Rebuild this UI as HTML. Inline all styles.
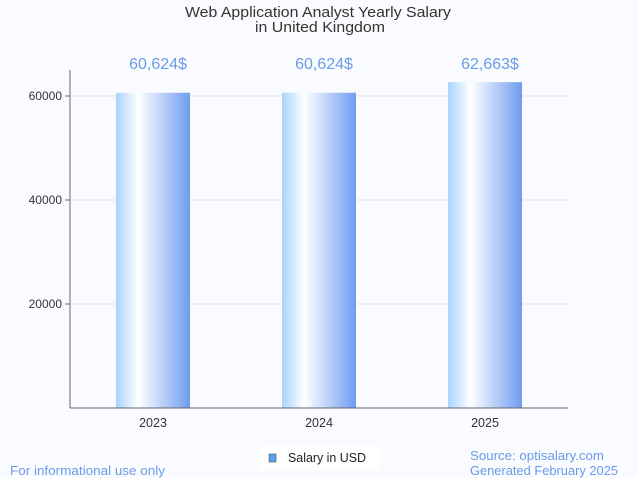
<!DOCTYPE html>
<html><head><meta charset="utf-8"><style>
body{margin:0;background:#fafbfe;font-family:"Liberation Sans",sans-serif;}
</style></head><body>
<svg id="chart" width="638" height="478" xmlns="http://www.w3.org/2000/svg" style="display:block;background:#fafbfe">
<defs>
<linearGradient id="bg" x1="0" x2="1" y1="0" y2="0">
<stop offset="0" stop-color="#a7d3fd"/>
<stop offset="0.3" stop-color="#ffffff"/>
<stop offset="1" stop-color="#6f9cf0"/>
</linearGradient>
</defs>
<text x="185" y="17" textLength="266" lengthAdjust="spacingAndGlyphs" font-size="14.5" fill="#333">Web Application Analyst Yearly Salary</text>
<text x="255" y="32" textLength="130" lengthAdjust="spacingAndGlyphs" font-size="14.5" fill="#333">in United Kingdom</text>
<g id="grid"></g>
<g id="bars"></g>
<line x1="70" y1="70" x2="70" y2="408" stroke="#666" stroke-width="1"/>
<line x1="70" y1="408" x2="568" y2="408" stroke="#666" stroke-width="1"/>
<g>
<rect x="259" y="446" width="120" height="24" fill="#fff"/>
<rect x="269" y="454" width="7" height="8" fill="#5aa0ee" stroke="#555" stroke-width="0.6"/>
<text x="288" y="462" textLength="78" lengthAdjust="spacingAndGlyphs" font-size="12.5" fill="#222">Salary in USD</text>
</g>
<text x="10" y="475" textLength="155" lengthAdjust="spacingAndGlyphs" font-size="12.5" fill="#6a9be8">For informational use only</text>
<text x="470" y="460" textLength="134" lengthAdjust="spacingAndGlyphs" font-size="12.5" fill="#6a9be8">Source: optisalary.com</text>
<text x="470" y="475" textLength="148" lengthAdjust="spacingAndGlyphs" font-size="12.5" fill="#6a9be8">Generated February 2025</text>
</svg>
<script>
const categories=["2023","2024","2025"];
const salaries=[60624,60624,62663];
const valueLabels=["60,624$","60,624$","62,663$"];
const yTicks=[20000,40000,60000];
const NS="http://www.w3.org/2000/svg";
const x0=70,x1=568,yBase=408,pxPer=104/20000;
const y=v=>yBase-v*pxPer;
const band=(x1-x0)/categories.length;
const bw=74;
const grid=document.getElementById('grid'),bars=document.getElementById('bars');
function mk(t,a,p){const e=document.createElementNS(NS,t);for(const k in a)e.setAttribute(k,a[k]);p.appendChild(e);return e;}
yTicks.forEach(v=>{
 const l=mk('line',{x1:x0,x2:x1,y1:y(v),y2:y(v),stroke:'#e3e3e3'},grid);
 
 
 const tk=mk('line',{x1:x0-5,x2:x0,y1:y(v),y2:y(v),stroke:'#666'},grid);
 
 
 const t=mk('text',{x:x0-8,y:y(v)+4,'text-anchor':'end','font-size':12,fill:'#333'},grid);
 t.textContent=v;
 
 
});
categories.forEach((c,i)=>{
 const cx=x0+band*(i+0.5);
 const r=mk('rect',{x:cx-bw/2,y:y(salaries[i]),width:bw,height:yBase-y(salaries[i]),fill:'url(#bg)'},bars);
 
 
 const vl=mk('text',{x:cx+5,y:69,'text-anchor':'middle','font-size':16,fill:'#6a9be8'},bars);
 vl.textContent=valueLabels[i];
 
 
 const tl=mk('text',{x:cx,y:427,'text-anchor':'middle','font-size':12.5,fill:'#333'},bars);
 tl.textContent=c;
 
 
});
</script>
</body></html>
